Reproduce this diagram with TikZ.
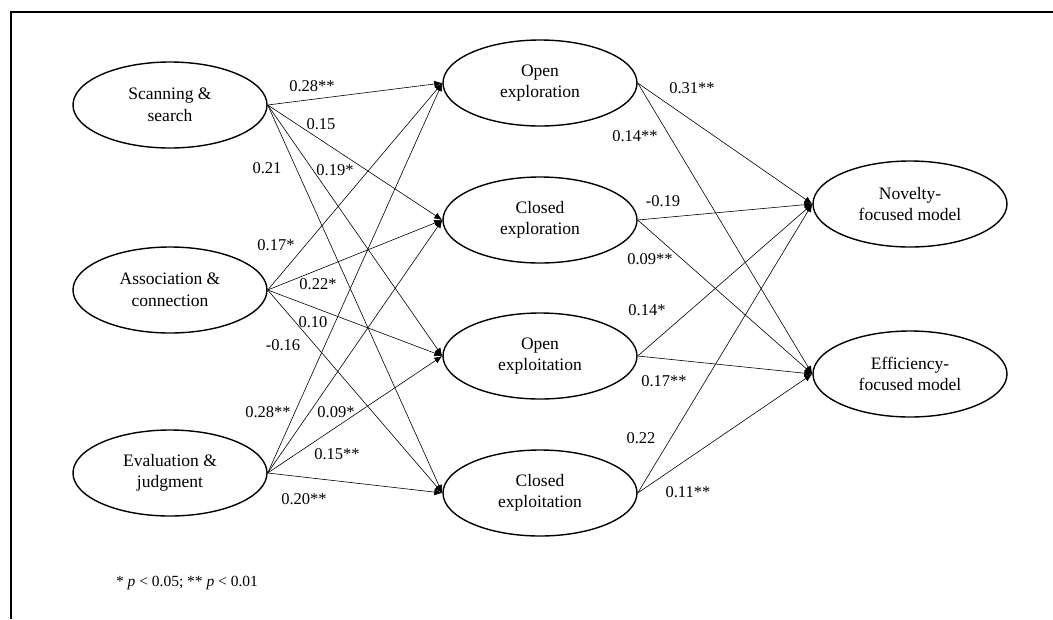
\documentclass[tikz,border=0pt]{standalone}
\usepackage{fontspec}
\setmainfont{Liberation Serif}
\usetikzlibrary{arrows.meta,shapes.geometric}
\begin{document}
\begin{tikzpicture}[x=1pt,y=-1pt,
  latent/.style={draw,ellipse,line width=1.4pt,minimum width=194pt,minimum height=86pt,inner sep=0pt,align=center,font=\fontsize{17.5}{21.5}\selectfont},
  pathline/.style={line width=0.6pt,-{Latex[length=8pt,width=6.5pt]}},
  coef/.style={inner sep=0pt,font=\fontsize{16.5}{18}\selectfont}]
\useasboundingbox (0,0) rectangle (1053,619);
\draw[line width=1.5pt] (11,619) -- (11,12) -- (1053,12);
% left
\node[latent] (ss) at (170,105) {Scanning \&\\search};
\node[latent] (ac) at (170,290) {Association \&\\connection};
\node[latent] (ej) at (170,473) {Evaluation \&\\judgment};
% middle
\node[latent] (oer) at (540,83) {Open\\exploration};
\node[latent] (cer) at (540,220) {Closed\\exploration};
\node[latent] (oei) at (540,356) {Open\\exploitation};
\node[latent] (cei) at (540,493) {Closed\\exploitation};
% right
\node[latent] (nov) at (910,204) {Novelty-\\focused model};
\node[latent] (eff) at (910,374) {Efficiency-\\focused model};
% paths left -> middle
\foreach \s in {ss,ac,ej}{
  \foreach \t in {oer,cer,oei,cei}{
    \draw[pathline] (\s.east) -- (\t.west);
  }
}
\foreach \s in {oer,cer,oei,cei}{
  \foreach \t in {nov,eff}{
    \draw[pathline] (\s.east) -- (\t.west);
  }
}
% coefficients
\node[coef] (l1) at (312,86) {0.28**};
\node[coef] (l2) at (321,124) {0.15};
\node[coef] (l3) at (267,168) {0.21};
\node[coef] (l4) at (335,170) {0.19*};
\node[coef] (l5) at (276,245) {0.17*};
\node[coef] (l6) at (318,284) {0.22*};
\node[coef] (l7) at (313,322) {0.10};
\node[coef] (l8) at (283,345) {-0.16};
\node[coef] (l9) at (268,412) {0.28**};
\node[coef] (l10) at (336,412) {0.09*};
\node[coef] (l11) at (337,454) {0.15**};
\node[coef] (l12) at (304,499) {0.20**};
\node[coef] (r1) at (692,88) {0.31**};
\node[coef] (r2) at (635,136) {0.14**};
\node[coef] (r3) at (663,201) {-0.19};
\node[coef] (r4) at (650,259) {0.09**};
\node[coef] (r5) at (647,310) {0.14*};
\node[coef] (r6) at (664,381) {0.17**};
\node[coef] (r7) at (641,438) {0.22};
\node[coef] (r8) at (688,492) {0.11**};
\node[inner sep=0pt,font=\fontsize{15.5}{18}\selectfont] (note) at (187,583) {* \textit{p} < 0.05; ** \textit{p} < 0.01};
\end{tikzpicture}
\end{document}
